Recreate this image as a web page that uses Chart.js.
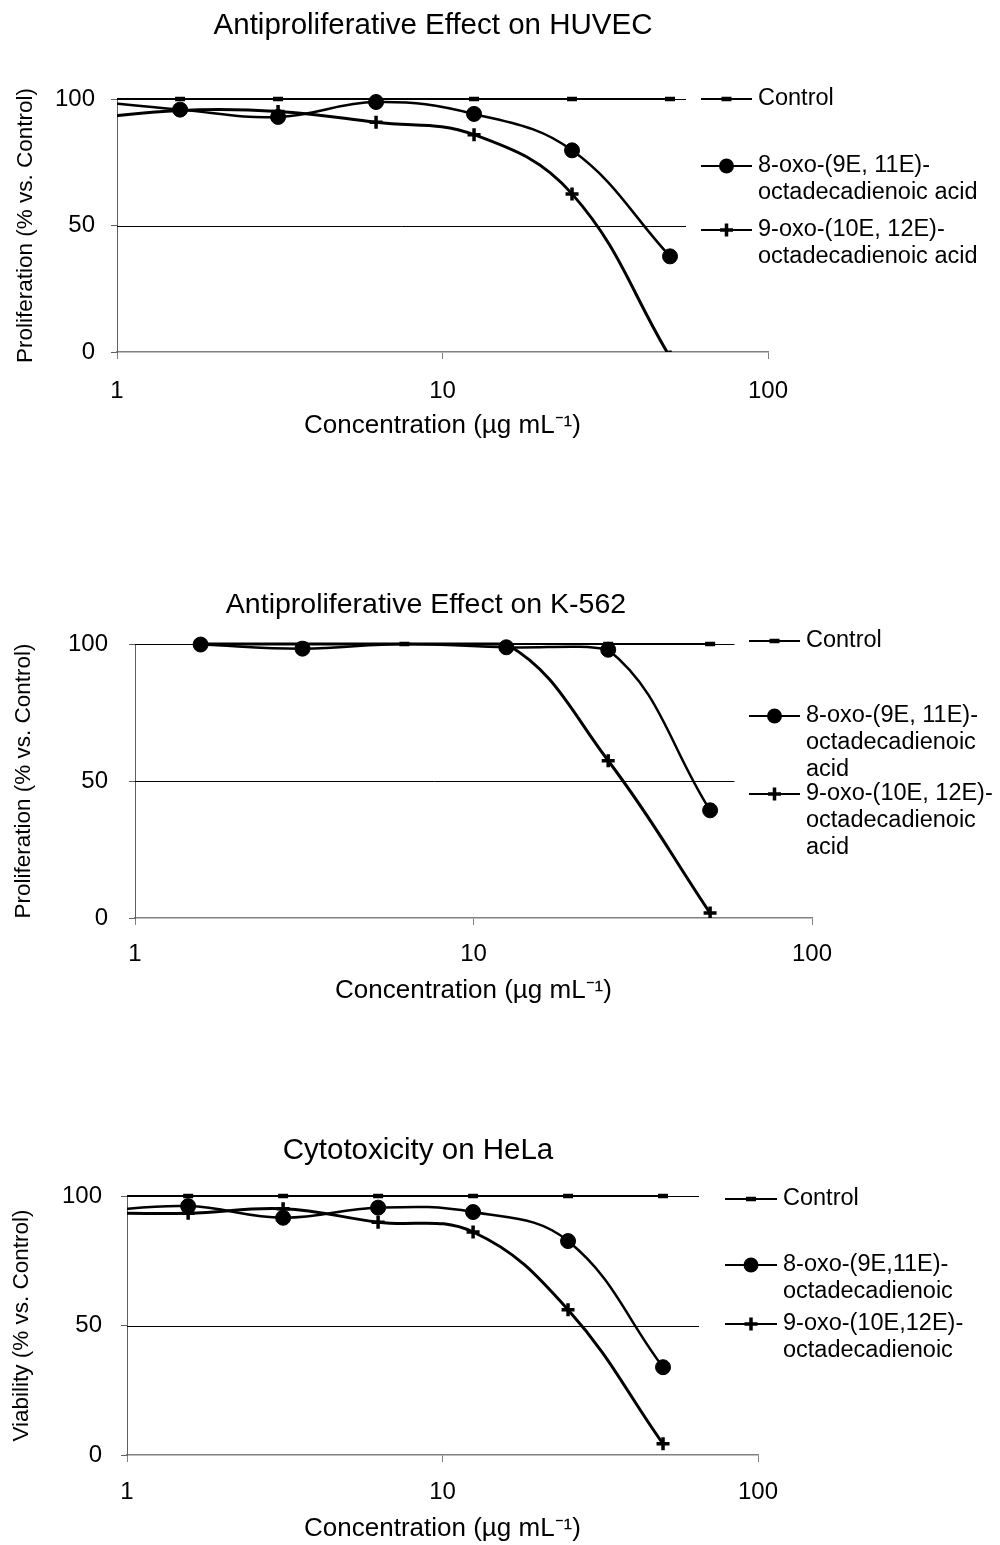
<!DOCTYPE html>
<html lang="en">
<head>
<meta charset="UTF-8">
<title>Antiproliferative Effect and Cytotoxicity</title>
<script src="https://cdn.jsdelivr.net/npm/chart.js"></script>
<style>
  body { margin: 0; background: #fff; }
  .page { position: relative; width: 1000px; height: 1545px; }
  canvas { position: absolute; left: 0; }
</style>
</head>
<body>
<div class="page">
  <canvas id="huvec" width="1000" height="470" style="top:0"></canvas>
  <canvas id="k562" width="1000" height="480" style="top:560px"></canvas>
  <canvas id="hela" width="1000" height="445" style="top:1100px"></canvas>
</div>
<script>
// concentrations in µg/mL; the 0.78 point lies left of the axis start and gets clipped
const concentrations = [0.78125, 1.5625, 3.125, 6.25, 12.5, 25, 50];
const xTickValues = [1, 10, 100];
const yTickValues = [0, 50, 100];
const gridLevels = [50, 100];

const huvecControl = [100, 100, 100, 100, 100, 100, 100];
const huvecOxo8 = [99.5, 95.8, 92.9, 98.8, 94.1, 79.7, 37.8];
const huvecOxo9 = [92, 95.5, 95.1, 90.8, 85.9, 62.5, -2];

const k562Control = [null, 100, 100, 100, 100, 100, 100];
const k562Oxo8 = [null, 99.8, 98.3, 100, 98.8, 97.9, 39.3];
const k562Oxo9 = [null, 100, 100, 100, 100, 57.4, 1.8];

const helaControl = [100, 100, 100, 100, 100, 100, 100];
const helaOxo8 = [94, 96.1, 91.6, 95.5, 93.8, 82.6, 33.9];
const helaOxo9 = [93.5, 93.3, 95.1, 89.9, 86.1, 56.1, 4.3];

const huvecLabels = [['Control'], ['8-oxo-(9E, 11E)-', 'octadecadienoic acid'], ['9-oxo-(10E, 12E)-', 'octadecadienoic acid']];
const k562Labels = [['Control'], ['8-oxo-(9E, 11E)-', 'octadecadienoic', 'acid'], ['9-oxo-(10E, 12E)-', 'octadecadienoic', 'acid']];
const helaLabels = [['Control'], ['8-oxo-(9E,11E)-', 'octadecadienoic'], ['9-oxo-(10E,12E)-', 'octadecadienoic']];

const FONT = '"Liberation Sans", Arial, sans-serif';
Chart.defaults.font.family = FONT;
Chart.defaults.color = '#000';

// control, 8-oxo, 9-oxo
const seriesStyles = [
  { pointStyle: 'line', radius: 5, markerWidth: 4.5, lineWidth: 2 },
  { pointStyle: 'circle', radius: 7.5, markerWidth: 1, lineWidth: 2.5 },
  { pointStyle: 'cross', radius: 6.5, markerWidth: 3.5, lineWidth: 3 }
];

function drawMarker(ctx, st, x, y) {
  ctx.lineWidth = st.markerWidth;
  ctx.beginPath();
  if (st.pointStyle === 'circle') {
    ctx.arc(x, y, st.radius, 0, Math.PI * 2);
    ctx.fill();
  } else if (st.pointStyle === 'cross') {
    ctx.moveTo(x - st.radius, y); ctx.lineTo(x + st.radius, y);
    ctx.moveTo(x, y - st.radius); ctx.lineTo(x, y + st.radius);
    ctx.stroke();
  } else {
    ctx.moveTo(x - st.radius, y); ctx.lineTo(x + st.radius, y);
    ctx.stroke();
  }
}

const headingPlugin = {
  id: 'heading',
  afterDraw(chart, args, opts) {
    const ctx = chart.ctx;
    ctx.save();
    ctx.font = opts.size + 'px ' + FONT;
    ctx.fillStyle = '#000';
    ctx.textAlign = 'center';
    ctx.textBaseline = 'middle';
    ctx.fillText(opts.text, opts.x, opts.y);
    ctx.restore();
  }
};

// horizontal lines at 50 and 100, stopping short of the axis end as in the original
const levelPlugin = {
  id: 'levelLines',
  beforeDatasetsDraw(chart, args, opts) {
    const { ctx, scales: { x, y } } = chart;
    const x0 = x.getPixelForValue(1);
    const x1 = x.getPixelForValue(opts.until);
    ctx.save();
    ctx.strokeStyle = '#000';
    ctx.lineWidth = 1;
    gridLevels.forEach(v => {
      const py = Math.round(y.getPixelForValue(v)) + 0.5;
      ctx.beginPath();
      ctx.moveTo(x0, py);
      ctx.lineTo(x1, py);
      ctx.stroke();
    });
    ctx.restore();
  }
};

const keyPlugin = {
  id: 'seriesKey',
  afterDraw(chart, args, opts) {
    const ctx = chart.ctx;
    ctx.save();
    ctx.fillStyle = '#000';
    ctx.strokeStyle = '#000';
    ctx.textBaseline = 'middle';
    ctx.font = opts.size + 'px ' + FONT;
    opts.labels.forEach((lines, i) => {
      const y = opts.rows[i];
      ctx.lineWidth = 2;
      ctx.beginPath();
      ctx.moveTo(opts.from, y);
      ctx.lineTo(opts.to, y);
      ctx.stroke();
      drawMarker(ctx, seriesStyles[i], (opts.from + opts.to) / 2, y);
      lines.forEach((t, k) => ctx.fillText(t, opts.textX, y + k * opts.gap));
    });
    ctx.restore();
  }
};

function makeChart(id, series, labels, cfg) {
  const datasets = series.map((vals, i) => {
    const st = seriesStyles[i];
    return {
      label: labels[i].join(' '),
      data: concentrations.map((c, k) => ({ x: c, y: vals[k] })),
      borderColor: '#000',
      backgroundColor: '#000',
      borderWidth: st.lineWidth,
      tension: 0.4,
      spanGaps: true,
      pointStyle: st.pointStyle,
      // treated points lying on the 100 % line carry no marker in the original
      pointRadius: c => (i > 0 && c.parsed && c.parsed.y >= 100) ? 0 : st.radius,
      pointBorderWidth: st.markerWidth,
      pointBorderColor: '#000',
      pointBackgroundColor: '#000',
      clip: { left: 0, top: 10, right: 12, bottom: 0 }
    };
  });

  return new Chart(document.getElementById(id), {
    type: 'line',
    data: { datasets },
    options: {
      responsive: false,
      animation: false,
      devicePixelRatio: 1,
      events: [],
      layout: { padding: cfg.padding },
      scales: {
        x: {
          type: 'logarithmic',
          min: 1,
          max: 100,
          afterFit: s => { s.height = cfg.xAxisHeight; },
          afterBuildTicks: s => { s.ticks = xTickValues.map(v => ({ value: v })); },
          border: { color: '#808080', width: 1.5 },
          grid: { drawOnChartArea: false, tickLength: 7, color: '#808080' },
          ticks: { padding: cfg.xTickPad, font: { size: 24 }, maxRotation: 0, autoSkip: false, callback: v => String(v) },
          title: { display: true, text: 'Concentration (µg mL⁻¹)', font: { size: 26 }, padding: { top: 0, bottom: cfg.xTitlePad } }
        },
        y: {
          min: 0,
          max: 100,
          afterFit: s => { s.width = cfg.yAxisWidth; },
          afterBuildTicks: s => { s.ticks = yTickValues.map(v => ({ value: v })); },
          border: { color: '#606060', width: 1 },
          grid: { drawOnChartArea: false, tickLength: 6, color: '#606060' },
          ticks: { padding: cfg.yTickPad, font: { size: 24 } },
          title: { display: true, text: cfg.yTitle, font: { size: 22.5 }, padding: { top: cfg.yTitlePad, bottom: 0 } }
        }
      },
      plugins: {
        legend: { display: false },
        tooltip: { enabled: false },
        heading: cfg.heading,
        levelLines: { until: cfg.gridEnd },
        seriesKey: Object.assign({ labels, size: 23.5 }, cfg.key)
      }
    },
    plugins: [headingPlugin, levelPlugin, keyPlugin]
  });
}

makeChart('huvec', [huvecControl, huvecOxo8, huvecOxo9], huvecLabels, {
  padding: { top: 99, left: 0, right: 232, bottom: 18 },
  yAxisWidth: 117, xAxisHeight: 100, xTickPad: 18, xTitlePad: 11, yTickPad: 16, yTitlePad: 12,
  yTitle: 'Proliferation (% vs. Control)',
  gridEnd: 56,
  heading: { text: 'Antiproliferative Effect on HUVEC', x: 433, y: 26, size: 29.5 },
  key: { from: 701, to: 752, textX: 758, rows: [99, 166, 230], gap: 26.5 }
});

makeChart('k562', [k562Control, k562Oxo8, k562Oxo9], k562Labels, {
  padding: { top: 84, left: 0, right: 188, bottom: 22 },
  yAxisWidth: 135, xAxisHeight: 100, xTickPad: 15, xTitlePad: 12, yTickPad: 21, yTitlePad: 10,
  yTitle: 'Proliferation (% vs. Control)',
  gridEnd: 59,
  heading: { text: 'Antiproliferative Effect on K-562', x: 426, y: 45, size: 28.5 },
  key: { from: 749, to: 800, textX: 806, rows: [81, 156, 234], gap: 27 }
});

makeChart('hela', [helaControl, helaOxo8, helaOxo9], helaLabels, {
  padding: { top: 96, left: 0, right: 242, bottom: 0 },
  yAxisWidth: 127, xAxisHeight: 90, xTickPad: 16, xTitlePad: 1, yTickPad: 19, yTitlePad: 8,
  yTitle: 'Viability (% vs. Control)',
  gridEnd: 65,
  heading: { text: 'Cytotoxicity on HeLa', x: 418, y: 51, size: 29.5 },
  key: { from: 725, to: 777, textX: 783, rows: [99, 165, 224], gap: 26.5 }
});
</script>
</body>
</html>
